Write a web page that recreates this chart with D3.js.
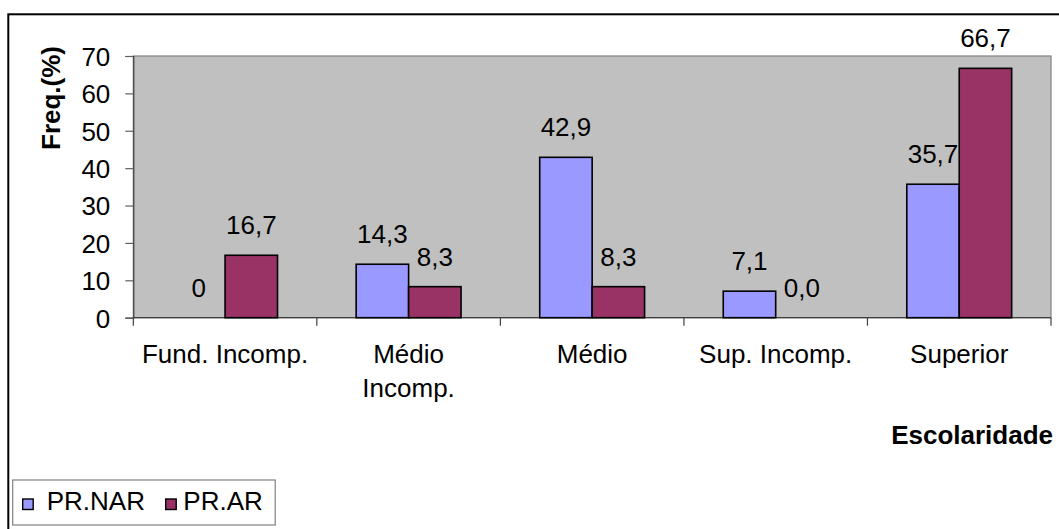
<!DOCTYPE html>
<html>
<head>
<meta charset="utf-8">
<script src="https://cdn.jsdelivr.net/npm/d3@7"></script>
<style>
  html, body { margin: 0; padding: 0; background: #fff; }
  svg { display: block; font-family: "Liberation Sans", Arial, sans-serif; }
</style>
</head>
<body>
<svg id="chart" width="1059" height="529"></svg>
<script>
// ---- data ----
const categories = ["Fund. Incomp.", "Médio|Incomp.", "Médio", "Sup. Incomp.", "Superior"];
const seriesNames = ["PR.NAR", "PR.AR"];
const prNar = [0, 14.3, 42.9, 7.1, 35.7];
const prAr = [16.7, 8.3, 8.3, 0.0, 66.7];
const prNarLabels = ["0", "14,3", "42,9", "7,1", "35,7"];
const prArLabels = ["16,7", "8,3", "8,3", "0,0", "66,7"];
const yTicks = [0, 10, 20, 30, 40, 50, 60, 70];
const colors = ["#9999FF", "#993366"];

const svg = d3.select("#chart");

// outer frame (cut off on right and bottom)
svg.append("rect")
  .attr("x", 8.3).attr("y", 14.3)
  .attr("width", 1200).attr("height", 700)
  .attr("fill", "#fff").attr("stroke", "#000").attr("stroke-width", 2);

const plot = { left: 133.3, right: 1051, top: 56, bottom: 317.7 };

const x0 = d3.scaleBand().domain(categories).range([plot.left, plot.right]).paddingInner(0).paddingOuter(0);
const x1 = d3.scaleBand().domain(seriesNames).range([0, x0.bandwidth()]).paddingInner(0).paddingOuter(0.75);
const y = d3.scaleLinear().domain([0, 70]).range([plot.bottom, plot.top]);

// plot area
svg.append("rect")
  .attr("x", plot.left).attr("y", plot.top)
  .attr("width", plot.right - plot.left).attr("height", plot.bottom - plot.top)
  .attr("fill", "#C0C0C0").attr("stroke", "#808080").attr("stroke-width", 1.2);

// y axis
const yAxis = svg.append("g")
  .attr("transform", `translate(${plot.left},0)`)
  .call(d3.axisLeft(y).tickValues(yTicks).tickSize(8).tickPadding(15).tickFormat(d3.format("d")));
yAxis.select(".domain").attr("stroke", "#404040").attr("stroke-width", 1.2);
yAxis.selectAll(".tick line").attr("stroke", "#606060").attr("stroke-width", 1.2);
yAxis.selectAll(".tick text").attr("font-size", 26).attr("fill", "#000")
  .attr("font-family", "Liberation Sans, Arial, sans-serif").attr("dy", "0.36em");

// x axis (ticks at category boundaries)
const boundaries = categories.map(c => x0(c)).concat([plot.right]);
svg.append("line")
  .attr("x1", plot.left).attr("x2", plot.right)
  .attr("y1", plot.bottom).attr("y2", plot.bottom)
  .attr("stroke", "#404040").attr("stroke-width", 1.2);
svg.selectAll(".xtick").data(boundaries).enter().append("line")
  .attr("class", "xtick")
  .attr("x1", d => d).attr("x2", d => d)
  .attr("y1", plot.bottom).attr("y2", plot.bottom + 8)
  .attr("stroke", "#404040").attr("stroke-width", 1.2);

// category labels
categories.forEach(c => {
  const lines = c.split("|");
  const cx = x0(c) + x0.bandwidth() / 2;
  const t = svg.append("text")
    .attr("x", cx).attr("y", 363)
    .attr("text-anchor", "middle")
    .attr("font-size", 26).attr("fill", "#000");
  lines.forEach((ln, i) => {
    t.append("tspan").attr("x", cx).attr("dy", i === 0 ? 0 : 33.5).text(ln);
  });
});

// bars and value labels
const seriesData = [prNar, prAr];
const seriesLabels = [prNarLabels, prArLabels];
seriesNames.forEach((s, si) => {
  const g = svg.append("g");
  const rows = seriesData[si].map((v, i) => ({ v, cat: categories[i], label: seriesLabels[si][i] }));
  g.selectAll("rect").data(rows.filter(d => d.v > 0)).enter().append("rect")
    .attr("x", d => x0(d.cat) + x1(s))
    .attr("y", d => y(d.v))
    .attr("width", x1.bandwidth())
    .attr("height", d => y(0) - y(d.v))
    .attr("fill", colors[si]).attr("stroke", "#000").attr("stroke-width", 1.6);
  g.selectAll("text").data(rows).enter().append("text")
    .attr("x", d => x0(d.cat) + x1(s) + x1.bandwidth() / 2)
    .attr("y", d => y(d.v) - 21)
    .attr("text-anchor", "middle")
    .attr("font-size", 26).attr("fill", "#000")
    .text(d => d.label);
});

// axis titles
svg.append("text")
  .attr("transform", `translate(60,98) rotate(-90)`)
  .attr("text-anchor", "middle")
  .attr("font-size", 26).attr("font-weight", "bold").attr("fill", "#000")
  .text("Freq.(%)");

svg.append("text")
  .attr("x", 1053).attr("y", 443.5)
  .attr("text-anchor", "end")
  .attr("font-size", 26).attr("font-weight", "bold").attr("fill", "#000")
  .text("Escolaridade");

// legend
const lg = svg.append("g");
lg.append("rect")
  .attr("x", 12.7).attr("y", 480).attr("width", 262.5).attr("height", 45)
  .attr("fill", "#fff").attr("stroke", "#808080").attr("stroke-width", 1.2);
const legendX = [[22.7, 46.7], [165.7, 183.3]];
seriesNames.forEach((s, si) => {
  lg.append("rect")
    .attr("x", legendX[si][0]).attr("y", 499).attr("width", 10.5).attr("height", 10.5)
    .attr("fill", colors[si]).attr("stroke", "#000").attr("stroke-width", 1.4);
  lg.append("text")
    .attr("x", legendX[si][1]).attr("y", 509.5)
    .attr("font-size", 26).attr("fill", "#000")
    .text(s);
});
</script>
</body>
</html>
